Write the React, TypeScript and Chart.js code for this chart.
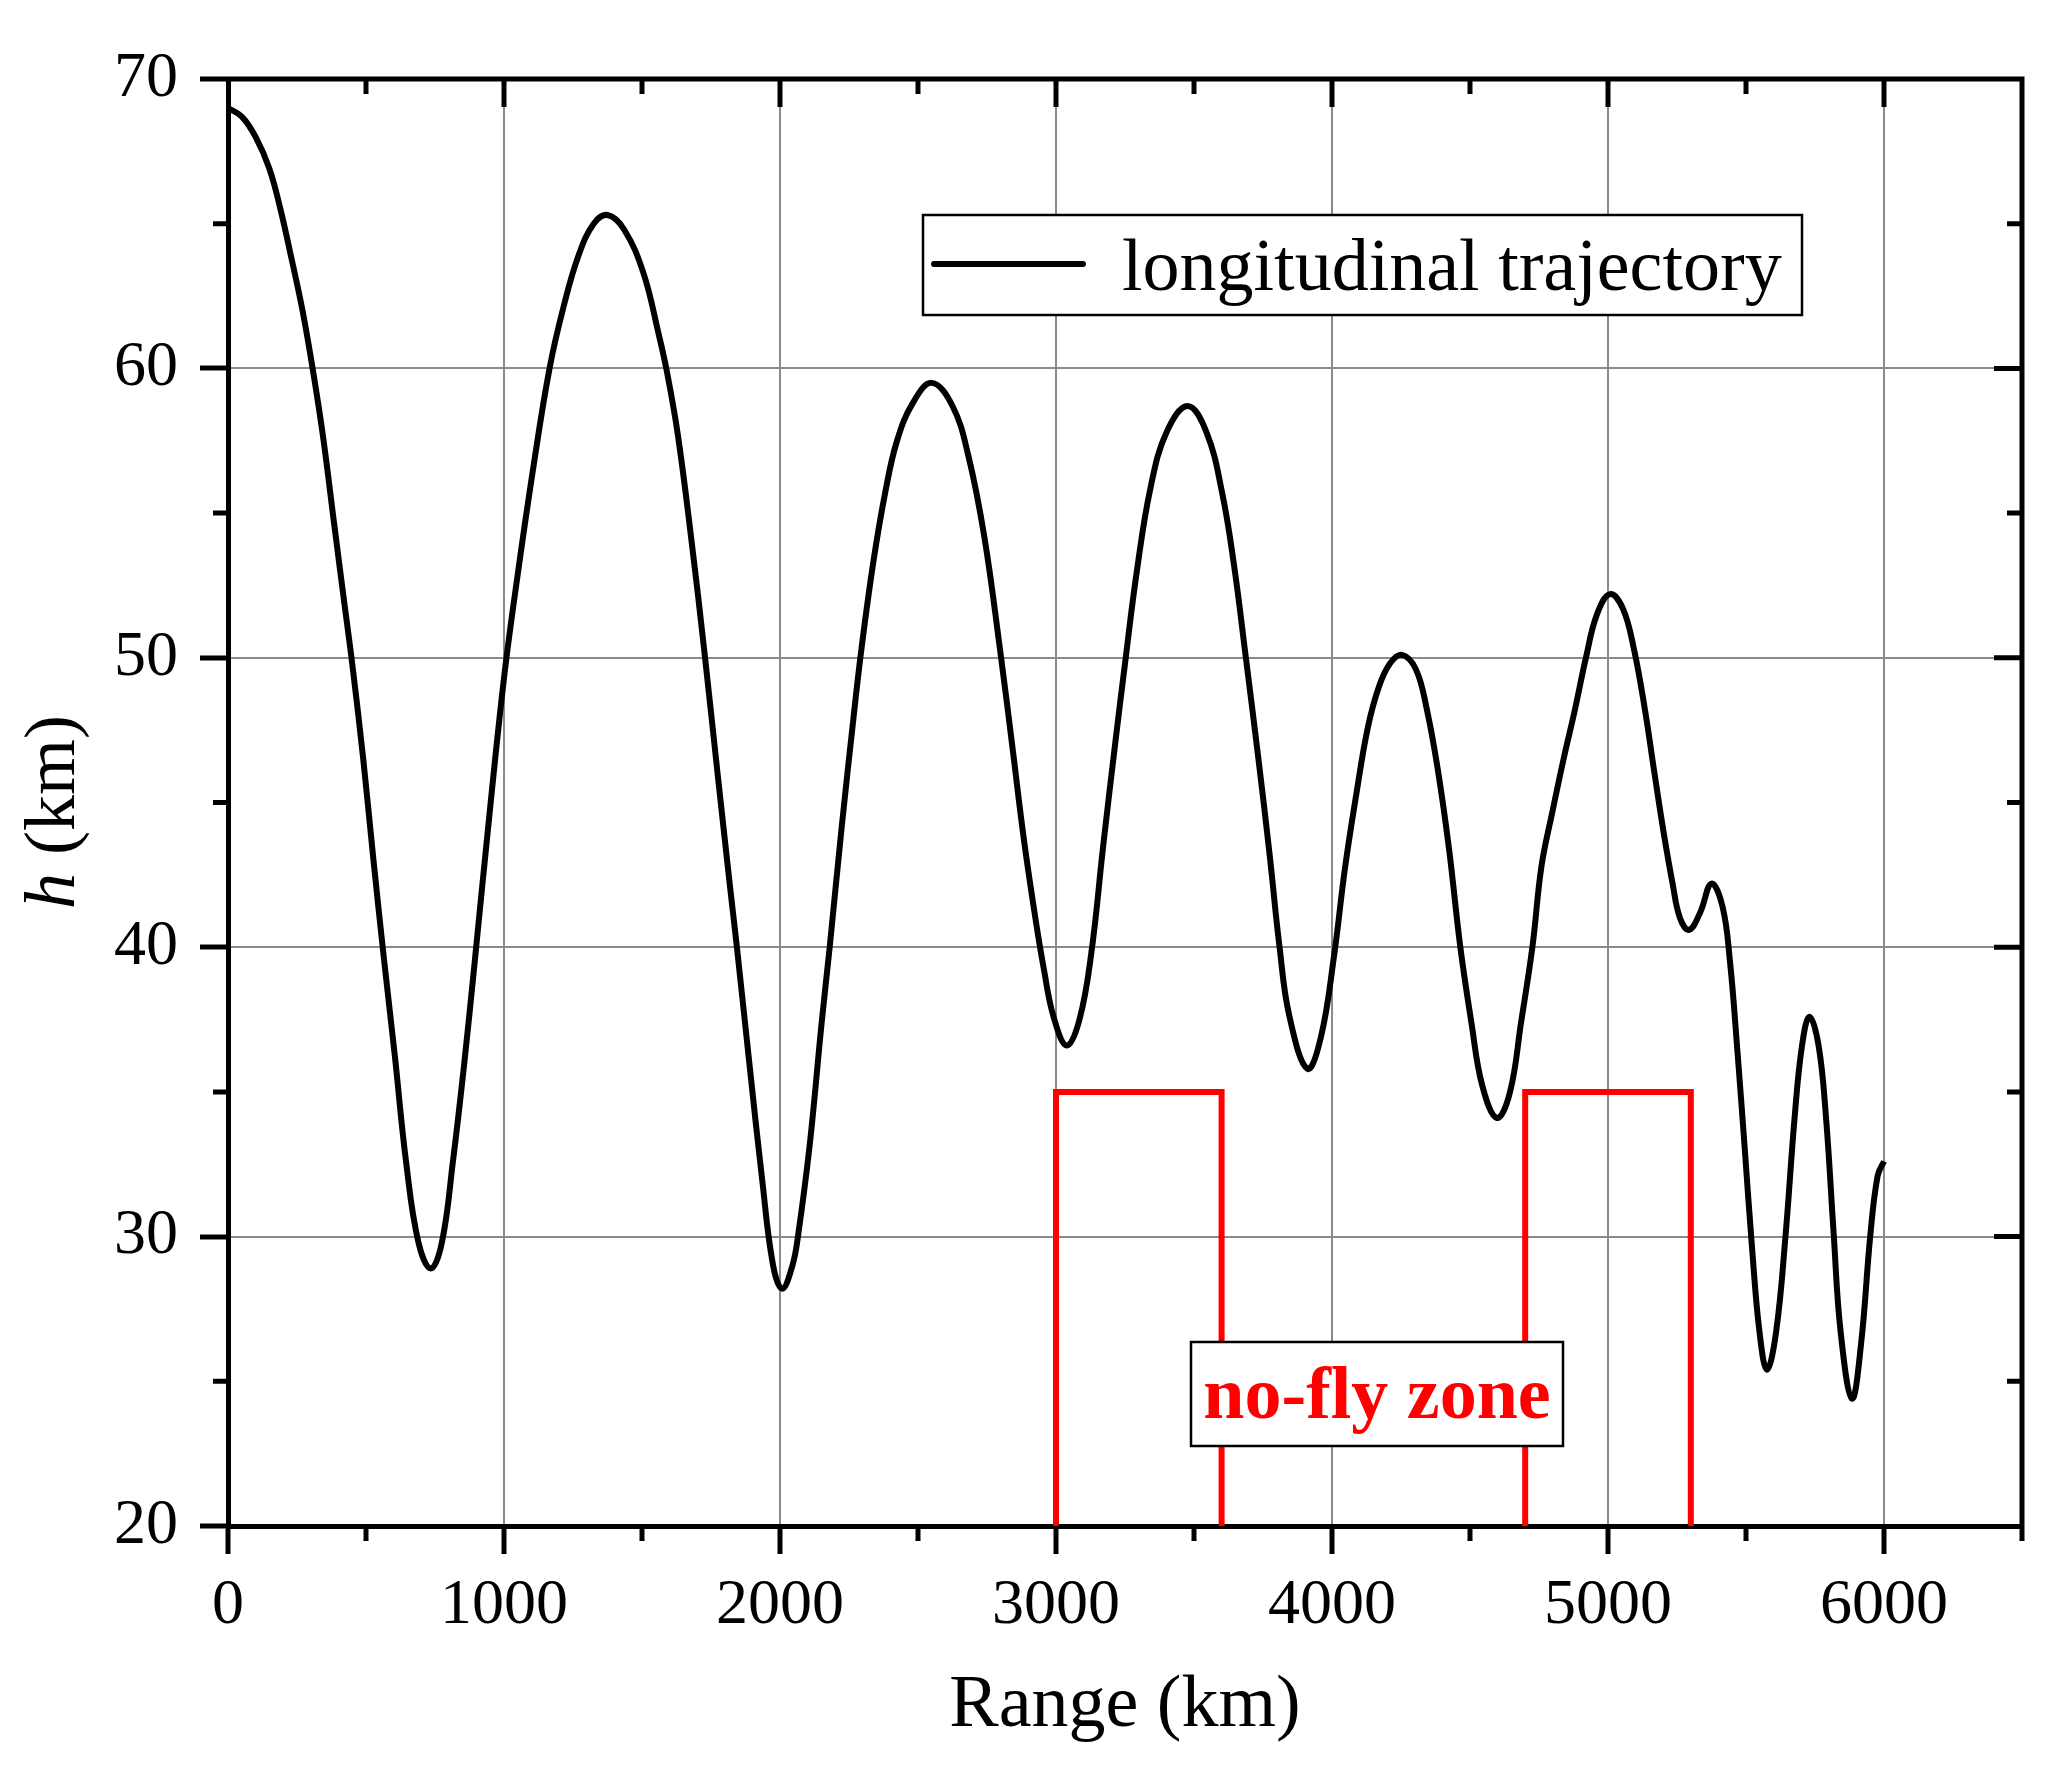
import { useEffect, useRef } from "react";
import { Chart, registerables } from "chart.js";

Chart.register(...registerables);

// trajectory (range km, altitude km)
const rangeKm = [
  0, 50, 100, 150, 190, 230, 270, 310, 345, 385, 420, 450, 490, 525, 565, 605,
  645, 690, 735, 775, 815, 855, 895, 940, 1000, 1050, 1105, 1165, 1215, 1270,
  1325, 1375, 1435, 1505, 1560, 1590, 1630, 1680, 1725, 1775, 1820, 1845, 1890,
  1935, 1975, 2008, 2045, 2065, 2108, 2151, 2180, 2223, 2266, 2295, 2338, 2381,
  2424, 2481, 2550, 2625, 2682, 2740, 2797, 2841, 2884, 2927, 2955, 2991, 3039,
  3085, 3128, 3171, 3214, 3250, 3293, 3343, 3401, 3477, 3545, 3602, 3645, 3688,
  3731, 3774, 3810, 3846, 3911, 3960, 4006, 4048, 4090, 4130, 4170, 4210,
  4253, 4304, 4344, 4384, 4424, 4465, 4505, 4545, 4598, 4645, 4685, 4726, 4759,
  4799, 4839, 4880, 4920, 4960, 5007, 5054, 5094, 5134, 5167, 5201, 5234, 5261,
  5294, 5334, 5375, 5415, 5442, 5469, 5495, 5522, 5549, 5576, 5609, 5643, 5676,
  5703, 5730, 5763, 5790, 5817, 5843, 5884, 5917, 5950, 5977, 6000,
];
const altitudeKm = [
  69.0, 68.7, 68.0, 66.9, 65.5, 63.8, 62.0, 59.8, 57.6, 54.6, 52.0, 49.8, 46.5,
  43.2, 39.6, 36.2, 32.6, 29.8, 28.9, 29.8, 32.6, 35.9, 39.6, 43.9, 49.3, 52.9,
  56.5, 60.0, 62.1, 63.9, 65.0, 65.3, 64.8, 63.3, 61.2, 59.9, 57.7, 54.0, 50.3,
  45.9, 42.0, 39.9, 35.9, 32.0, 29.0, 28.2, 29.0, 30.0, 33.2, 37.4, 40.0, 44.1,
  47.9, 50.3, 53.3, 55.7, 57.5, 58.8, 59.5, 58.7, 57.0, 54.2, 50.3, 47.0, 43.7,
  40.9, 39.3, 37.6, 36.6, 37.5, 39.8, 43.5, 47.0, 49.8, 53.0, 55.9, 57.8, 58.7,
  57.8, 55.7, 53.2, 50.0, 46.7, 43.2, 40.0, 37.6, 35.8, 36.9, 39.6, 42.8,
  45.4, 47.6, 49.0, 49.8, 50.1, 49.6, 48.2, 46.1, 43.4, 40.0, 37.4, 35.2, 34.1,
  35.0, 37.4, 40.0, 42.8, 44.7, 46.5, 48.2, 50.0, 51.5, 52.2, 51.7, 50.3, 48.2,
  46.1, 44.0, 42.2, 41.0, 40.6, 41.2, 42.2, 41.4, 39.5, 36.4, 33.1, 29.6, 26.7,
  25.4, 26.7, 30.0, 34.1, 36.6, 37.6, 36.6, 34.1, 30.2, 26.7, 24.4, 26.3, 30.0,
  32.1, 32.6,
];

// no-fly zones (range km) and their ceiling (km)
const zoneStartKm = [3000, 4700];
const zoneEndKm = [3600, 5300];
const zoneTopKm = 35;
const groundKm = 20;

const xMajorTicks = [0, 1000, 2000, 3000, 4000, 5000, 6000];
const xMinorTicks = [500, 1500, 2500, 3500, 4500, 5500, 6500];
const yMajorTicks = [20, 30, 40, 50, 60, 70];
const yMinorTicks = [25, 35, 45, 55, 65];

const seriesLabel = "longitudinal trajectory";
const zoneLabel = "no-fly zone";
const xTitle = "Range (km)";

const SERIF = '"Liberation Serif", "Times New Roman", serif';

const overlayPlugin = {
  id: "overlay",
  afterDatasetsDraw(chart: any) {
    const { ctx } = chart;
    ctx.save();
    // legend box
    ctx.fillStyle = "#fff";
    ctx.strokeStyle = "#000";
    ctx.lineWidth = 2.5;
    ctx.fillRect(923, 215, 879, 100);
    ctx.strokeRect(923, 215, 879, 100);
    ctx.lineWidth = 6;
    ctx.lineCap = "round";
    ctx.beginPath();
    ctx.moveTo(934, 264);
    ctx.lineTo(1083, 264);
    ctx.stroke();
    ctx.fillStyle = "#000";
    ctx.font = `74px ${SERIF}`;
    ctx.textBaseline = "alphabetic";
    ctx.textAlign = "left";
    ctx.fillText(seriesLabel, 1122, 290);

    // no-fly zone label
    ctx.fillStyle = "#fff";
    ctx.lineWidth = 2.5;
    ctx.lineCap = "butt";
    ctx.fillRect(1191, 1342, 372, 104);
    ctx.strokeRect(1191, 1342, 372, 104);
    ctx.fillStyle = "#ff0000";
    ctx.font = `bold 74px ${SERIF}`;
    ctx.textAlign = "center";
    ctx.fillText(zoneLabel, 1377, 1418);
    ctx.restore();
  },
  afterDraw(chart: any) {
    const { ctx, chartArea: a, scales } = chart;
    const xs = scales.x;
    const ys = scales.y;
    ctx.save();
    ctx.strokeStyle = "#000";
    ctx.lineWidth = 5;
    ctx.lineCap = "butt";
    ctx.beginPath();
    ctx.moveTo(a.left - 2.5, a.top);
    ctx.lineTo(a.right + 2.5, a.top);
    ctx.moveTo(a.right, a.top);
    ctx.lineTo(a.right, a.bottom + 2.5);
    // top axis ticks, pointing in
    xMajorTicks.forEach((v) => {
      const p = xs.getPixelForValue(v);
      if (p <= a.left + 1) return;
      ctx.moveTo(p, a.top);
      ctx.lineTo(p, a.top + 28);
    });
    xMinorTicks.forEach((v) => {
      const p = xs.getPixelForValue(v);
      if (p >= a.right - 1) return;
      ctx.moveTo(p, a.top);
      ctx.lineTo(p, a.top + 15);
      ctx.moveTo(p, a.bottom);
      ctx.lineTo(p, a.bottom + 15);
    });
    ctx.moveTo(a.right, a.bottom);
    ctx.lineTo(a.right, a.bottom + 15);
    // right axis ticks, pointing in
    yMajorTicks.forEach((v) => {
      const p = ys.getPixelForValue(v);
      if (p <= a.top + 1 || p >= a.bottom - 1) return;
      ctx.moveTo(a.right, p);
      ctx.lineTo(a.right - 28, p);
    });
    yMinorTicks.forEach((v) => {
      const p = ys.getPixelForValue(v);
      ctx.moveTo(a.right, p);
      ctx.lineTo(a.right - 15, p);
      ctx.moveTo(a.left, p);
      ctx.lineTo(a.left - 15, p);
    });
    ctx.stroke();

    // y axis title: italic h + (km)
    ctx.translate(55, 812);
    ctx.rotate(-Math.PI / 2);
    ctx.fillStyle = "#000";
    ctx.textBaseline = "middle";
    ctx.textAlign = "left";
    const italic = `italic 72px ${SERIF}`;
    const normal = `72px ${SERIF}`;
    ctx.font = italic;
    const w1 = ctx.measureText("h").width;
    ctx.font = normal;
    const w2 = ctx.measureText(" (km)").width;
    const x0 = -(w1 + w2) / 2;
    ctx.font = italic;
    ctx.fillText("h", x0, 0);
    ctx.font = normal;
    ctx.fillText(" (km)", x0 + w1, 0);
    ctx.restore();
  },
};

export default function App() {
  const canvasRef = useRef<HTMLCanvasElement>(null);
  const chartRef = useRef<Chart | null>(null);

  useEffect(() => {
    document.body.style.margin = "0";
    document.body.style.overflow = "hidden";
    if (!canvasRef.current) return;
    const ctx = canvasRef.current.getContext("2d");
    if (!ctx) return;

    if (chartRef.current) chartRef.current.destroy();

    const trajectory = rangeKm.map((x, i) => ({ x, y: altitudeKm[i] }));
    const zones = zoneStartKm.map((start, i) => ({
      data: [
        { x: start, y: groundKm },
        { x: start, y: zoneTopKm },
        { x: zoneEndKm[i], y: zoneTopKm },
        { x: zoneEndKm[i], y: groundKm },
      ],
      borderColor: "#ff0000",
      borderWidth: 6,
      pointRadius: 0,
      tension: 0,
      fill: false,
      borderJoinStyle: "miter" as const,
    }));

    chartRef.current = new Chart(ctx, {
      type: "line",
      data: {
        datasets: [
          {
            data: trajectory,
            borderColor: "#000",
            borderWidth: 6,
            pointRadius: 0,
            fill: false,
            tension: 0.4,
            borderJoinStyle: "round",
          },
          ...zones,
        ],
      },
      options: {
        responsive: false,
        animation: false,
        devicePixelRatio: 1,
        layout: { padding: { left: 0, top: 79, right: 47, bottom: 0 } },
        plugins: {
          legend: { display: false },
          tooltip: { enabled: false },
        },
        scales: {
          x: {
            type: "linear",
            min: 0,
            max: 6500,
            afterBuildTicks: (s: any) => {
              s.ticks = xMajorTicks.map((value) => ({ value }));
            },
            afterFit: (s: any) => {
              s.height = 255;
            },
            grid: {
              color: "#8a8a8a",
              lineWidth: 2,
              drawTicks: true,
              tickLength: 28,
              tickColor: "#000",
              tickWidth: 5,
            },
            border: { color: "#000", width: 5 },
            ticks: {
              color: "#000",
              padding: 14,
              maxRotation: 0,
              font: { family: SERIF, size: 64 },
              callback: (v: any) => String(v),
            },
            title: {
              display: true,
              text: xTitle,
              color: "#000",
              font: { family: SERIF, size: 74 },
              padding: { top: 0, bottom: 30 },
            },
          },
          y: {
            type: "linear",
            min: 20,
            max: 70,
            afterBuildTicks: (s: any) => {
              s.ticks = yMajorTicks.map((value) => ({ value }));
            },
            afterFit: (s: any) => {
              s.width = 228;
            },
            grid: {
              color: "#8a8a8a",
              lineWidth: 2,
              drawTicks: true,
              tickLength: 28,
              tickColor: "#000",
              tickWidth: 5,
            },
            border: { color: "#000", width: 5 },
            ticks: {
              color: "#000",
              padding: 22,
              font: { family: SERIF, size: 64 },
              callback: (v: any) => String(v),
            },
          },
        },
      },
      plugins: [overlayPlugin],
    });

    return () => {
      if (chartRef.current) {
        chartRef.current.destroy();
        chartRef.current = null;
      }
    };
  }, []);

  return (
    <div style={{ width: 2069, height: 1781, background: "#fff" }}>
      <canvas ref={canvasRef} width={2069} height={1781} style={{ display: "block" }} />
    </div>
  );
}
